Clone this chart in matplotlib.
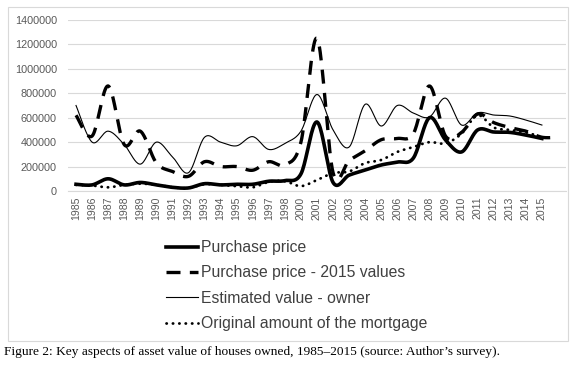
import numpy as np
import matplotlib
matplotlib.use("Agg")
import matplotlib.pyplot as plt
from matplotlib.lines import Line2D

years = ["1985", "1986", "1987", "1988", "1989", "1990", "1991", "1992", "1993", "1994",
         "1995", "1996", "1997", "1998", "2000", "2001", "2002", "2003", "2004", "2005",
         "2006", "2007", "2008", "2009", "2010", "2011", "2012", "2013", "2014", "2015", ""]

purchase = [55000, 50000, 100000, 50000, 70000, 50000, 30000, 25000, 60000, 50000,
            55000, 55000, 80000, 85000, 140000, 565000, 70000, 130000, 172000, 213000,
            237000, 270000, 600000, 418000, 320000, 500000, 483000, 480000, 458000, 430000, None]

purchase_2015 = [620000, 450000, 860000, 380000, 490000, 230000, 160000, 120000, 240000, 200000,
                 200000, 170000, 240000, 213000, 400000, 1250000, 150000, 250000, 330000, 420000,
                 430000, 470000, 860000, 450000, 480000, 630000, 560000, 520000, 490000, 440000, 440000]

estimated = [700000, 400000, 490000, 380000, 220000, 400000, 280000, 150000, 440000, 400000,
             370000, 445000, 340000, 390000, 490000, 790000, 500000, 360000, 710000, 532000,
             700000, 638000, 606000, 760000, 540000, 640000, 622000, 614000, 581000, 540000, None]

mortgage = [50000, 45000, 30000, 50000, 60000, 50000, 30000, 25000, 55000, 50000,
            40000, 30000, 75000, 80000, 40000, 90000, 147000, 160000, 229000, 254000,
            320000, 360000, 400000, 390000, 470000, 620000, 520000, 500000, 480000, 440000, None]

labels = ["Purchase price", "Purchase price - 2015 values",
          "Estimated value - owner", "Original amount of the mortgage"]

caption = "Figure 2: Key aspects of asset value of houses owned, 1985\u20132015 (source: Author\u2019s survey)."


def smooth(values, n=20):
    pts = [(i, v) for i, v in enumerate(values) if v is not None]
    x = np.array([p[0] for p in pts], float)
    y = np.array([p[1] for p in pts], float)
    if len(x) < 2:
        return x, y
    xs, ys = [x[0]], [y[0]]
    t = np.linspace(0, 1, n + 1)[1:]
    for k in range(len(x) - 1):
        p0 = np.array([x[max(k - 1, 0)], y[max(k - 1, 0)]])
        p1 = np.array([x[k], y[k]])
        p2 = np.array([x[k + 1], y[k + 1]])
        p3 = np.array([x[min(k + 2, len(x) - 1)], y[min(k + 2, len(x) - 1)]])
        c1 = p1 + (p2 - p0) / 6.0
        c2 = p2 - (p3 - p1) / 6.0
        b = ((1 - t) ** 3)[:, None] * p1 + (3 * (1 - t) ** 2 * t)[:, None] * c1 \
            + (3 * (1 - t) * t ** 2)[:, None] * c2 + (t ** 3)[:, None] * p2
        xs.extend(b[:, 0]); ys.extend(b[:, 1])
    return np.array(xs), np.array(ys)


W, H = 573, 366
fig = plt.figure(figsize=(W / 100, H / 100), dpi=100)

# chart border
fig.patches.append(plt.Rectangle((8 / W, 1 - 341 / H), 560 / W, 334 / H,
                                 transform=fig.transFigure, fill=False,
                                 edgecolor="#d9d9d9", linewidth=0.8))

ax = fig.add_axes([68 / W, 1 - 191 / H, 498 / W, 171 / H])
ax.set_xlim(-0.5, len(years) - 0.5)
ax.set_ylim(0, 1400000)
ax.set_yticks(np.arange(0, 1400001, 200000))
ax.yaxis.grid(True, color="#d9d9d9", linewidth=0.8)
ax.set_axisbelow(True)
for s in ["top", "right", "left"]:
    ax.spines[s].set_visible(False)
ax.spines["bottom"].set_color("#d9d9d9")
ax.spines["bottom"].set_linewidth(0.8)
ax.set_xticks(range(len(years)))
ax.set_xticklabels(years, rotation=90, fontsize=7.6, color="#595959", family="Liberation Sans")
ax.tick_params(axis="x", length=0, pad=4)
ax.tick_params(axis="y", length=0, pad=8)
ax.yaxis.set_major_formatter(matplotlib.ticker.FuncFormatter(lambda v, p: f"{int(v)}"))
for lab in ax.get_yticklabels():
    lab.set_fontsize(7.8)
    lab.set_color("#595959")
    lab.set_family("Liberation Sans")

styles = [
    dict(color="black", lw=2.6, ls="-"),
    dict(color="black", lw=2.4, ls=(0, (4.2, 2.8))),
    dict(color="black", lw=0.8, ls="-"),
    dict(color="black", lw=2.0, ls=(0, (0.1, 2.2)), dash_capstyle="round"),
]
series = [purchase, purchase_2015, estimated, mortgage]
draw_order = [2, 3, 1, 0]
for idx in draw_order:
    xs, ys = smooth(series[idx])
    ax.plot(xs, ys, label=labels[idx], **styles[idx])

leg_handles = [Line2D([], [], **styles[i]) for i in range(4)]
leg = fig.legend(leg_handles, labels, loc="upper left",
                 bbox_to_anchor=(152 / W, 1 - 226 / H), frameon=False,
                 prop={"family": "Liberation Sans", "size": 11.3},
                 handlelength=2.0, handletextpad=0.2, labelspacing=0.66,
                 labelcolor="#404040")

fig.text(4 / W, 1 - 352 / H, caption, fontsize=9.6, family="Liberation Serif",
         va="center", ha="left", color="black")

fig.savefig("out.png", dpi=100)
